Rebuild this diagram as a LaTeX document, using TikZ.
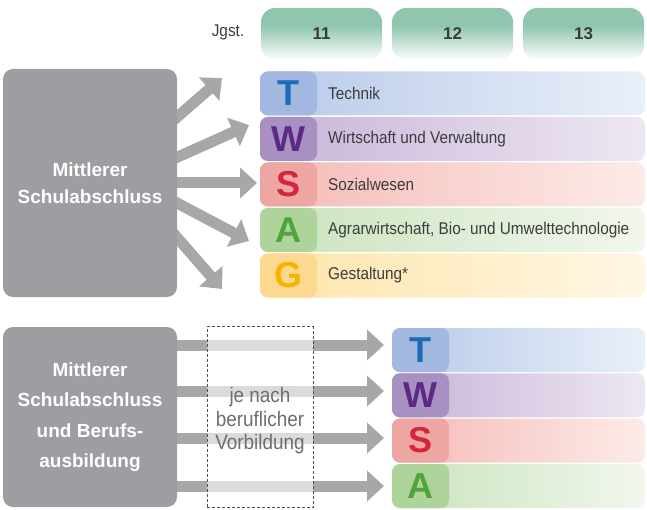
\documentclass[tikz,border=0pt]{standalone}
\usepackage{fontspec}
\setmainfont{Liberation Sans}[FakeStretch=0.9]
\newfontfamily\headfont{Liberation Sans}
\usetikzlibrary{arrows.meta}

\definecolor{boxgray}{HTML}{9C9EA1}
\definecolor{arrowgray}{HTML}{A5A7A9}
\definecolor{dashgray}{HTML}{505050}
\definecolor{tabgreen}{HTML}{8FC6AD}
\definecolor{labeltext}{HTML}{3C3C3C}
\definecolor{softtext}{HTML}{6E6E6E}
\definecolor{tLetter}{HTML}{1C6BB6}\definecolor{tBox}{HTML}{A2B8E0}
\definecolor{tLeft}{HTML}{B7C9E9}\definecolor{tRight}{HTML}{EAF0F9}
\definecolor{wLetter}{HTML}{5B2A84}\definecolor{wBox}{HTML}{A890C3}
\definecolor{wLeft}{HTML}{C6B4D7}\definecolor{wRight}{HTML}{EEE7F2}
\definecolor{sLetter}{HTML}{D7233B}\definecolor{sBox}{HTML}{EEA6A3}
\definecolor{sLeft}{HTML}{F5BAB5}\definecolor{sRight}{HTML}{FCEBE8}
\definecolor{aLetter}{HTML}{4DA53B}\definecolor{aBox}{HTML}{AED49C}
\definecolor{aLeft}{HTML}{C9E3BC}\definecolor{aRight}{HTML}{F1F7ED}
\definecolor{gLetter}{HTML}{F6B400}\definecolor{gBox}{HTML}{FDD88F}
\definecolor{gLeft}{HTML}{FEE4A9}\definecolor{gRight}{HTML}{FFF7E4}

\pgfdeclareverticalshading{tabfade}{100bp}{color(0bp)=(white); color(25bp)=(white);
  color(38bp)=(tabgreen!40!white); color(58bp)=(tabgreen); color(100bp)=(tabgreen)}

\begin{document}
\begin{tikzpicture}[x=1pt, y=-1pt]
		% Define the styles
		\tikzstyle{yeartab}=[shading=tabfade, rounded corners=14pt, inner sep=0pt,
		minimum width=121pt, minimum height=52pt, text=labeltext,
		font=\headfont\bfseries\fontsize{17}{17}\selectfont]
		\tikzstyle{graybox}=[fill=boxgray, rounded corners=10pt, inner sep=0pt,
		minimum width=174pt, text=white, align=center,
		font=\headfont\bfseries\fontsize{19}{27}\selectfont]
		\tikzstyle{trackrow}=[rounded corners=8pt, inner sep=0pt, minimum height=44pt]
		\tikzstyle{letterbox}=[rounded corners=8pt, inner sep=0pt, minimum width=57pt,
		minimum height=44pt, anchor=west, font=\headfont\bfseries\fontsize{36}{36}\selectfont]
		\tikzstyle{rowlabel}=[anchor=west, inner sep=0pt, text=labeltext,
		font=\fontsize{17}{17}\selectfont]
		\tikzstyle{fanarrow}=[draw=arrowgray, line width=11pt,
		-{Triangle[length=17pt, width=30pt]}]
		
		\useasboundingbox (0,0) rectangle (647,510);
		
		% Year header
		\node[anchor=center, text=labeltext, font=\fontsize{17}{17}\selectfont] (jgst) at (228,32) {Jgst.};
		\node[yeartab] (y11) at (321.5,34) {11}; \node[yeartab] (y12) at (452.5,34) {12};
		\node[yeartab] (y13) at (583.5,34) {13};
		
		% Arrow tips in front of the upper rows
		\coordinate (tipT) at (222,78); \coordinate (tipW) at (249,125);
		\coordinate (tipS) at (257,183); \coordinate (tipA) at (249,241);
		\coordinate (tipG) at (222,289);
		\coordinate (upper) at (177,183);
		
		% Fan of arrows
		\draw[fanarrow] ([xshift=-17pt, yshift=51pt]upper) -- (tipT);
		\draw[fanarrow] ([xshift=-17pt, yshift=18pt]upper) -- (tipW);
		\draw[fanarrow] ([xshift=-17pt]upper) -- (tipS);
		\draw[fanarrow] ([xshift=-17pt, yshift=-11pt]upper) -- (tipA);
		\draw[fanarrow] ([xshift=-17pt, yshift=-35pt]upper) -- (tipG);
		
		% Upper gray box
		\node[graybox, minimum height=228pt] (upperbox) at (90,183) {Mittlerer\\Schulabschluss};
		
		% Upper rows
		\node[trackrow, minimum width=385pt, left color=tLeft, right color=tRight] (rowT) at (452.5,93.5) {};
		\node[letterbox, fill=tBox, text=tLetter] (boxT) at (rowT.west) {T};
		\node[rowlabel] (labT) at (328,93.5) {Technik};
		\node[trackrow, minimum width=385pt, left color=wLeft, right color=wRight] (rowW) at (452.5,139) {};
		\node[letterbox, fill=wBox, text=wLetter] (boxW) at (rowW.west) {W};
		\node[rowlabel] (labW) at (328,139) {Wirtschaft und Verwaltung};
		\node[trackrow, minimum width=385pt, left color=sLeft, right color=sRight] (rowS) at (452.5,184.5) {};
		\node[letterbox, fill=sBox, text=sLetter] (boxS) at (rowS.west) {S};
		\node[rowlabel] (labS) at (328,184.5) {Sozialwesen};
		\node[trackrow, minimum width=385pt, left color=aLeft, right color=aRight] (rowA) at (452.5,230) {};
		\node[letterbox, fill=aBox, text=aLetter] (boxA) at (rowA.west) {A};
		\node[rowlabel] (labA) at (328,230) {Agrarwirtschaft, Bio- und Umwelttechnologie};
		\node[trackrow, minimum width=385pt, left color=gLeft, right color=gRight] (rowG) at (452.5,275.5) {};
		\node[letterbox, fill=gBox, text=gLetter] (boxG) at (rowG.west) {G};
		\node[rowlabel] (labG) at (328,275.5) {Gestaltung*};
		
		% Lower rows
		\node[trackrow, minimum width=253pt, left color=tLeft, right color=tRight] (lrowT) at (518.5,350) {};
		\node[letterbox, fill=tBox, text=tLetter] (lboxT) at (lrowT.west) {T};
		\node[trackrow, minimum width=253pt, left color=wLeft, right color=wRight] (lrowW) at (518.5,395.3) {};
		\node[letterbox, fill=wBox, text=wLetter] (lboxW) at (lrowW.west) {W};
		\node[trackrow, minimum width=253pt, left color=sLeft, right color=sRight] (lrowS) at (518.5,440.6) {};
		\node[letterbox, fill=sBox, text=sLetter] (lboxS) at (lrowS.west) {S};
		\node[trackrow, minimum width=253pt, left color=aLeft, right color=aRight] (lrowA) at (518.5,486) {};
		\node[letterbox, fill=aBox, text=aLetter] (lboxA) at (lrowA.west) {A};
		
		% Straight arrows to the lower rows
		\coordinate (ltipT) at (384,345); \coordinate (ltipW) at (384,391);
		\coordinate (ltipS) at (384,438); \coordinate (ltipA) at (384,486);
		\coordinate (lower) at (167,417);
		\draw[fanarrow] (lower |- ltipT) -- (ltipT);
		\draw[fanarrow] (lower |- ltipW) -- (ltipW);
		\draw[fanarrow] (lower |- ltipS) -- (ltipS);
		\draw[fanarrow] (lower |- ltipA) -- (ltipA);
		
		% Lower gray box
		\node[graybox, minimum height=180pt, font=\headfont\bfseries\fontsize{19}{30.5}\selectfont]
		(lowerbox) at (90,417) {Mittlerer\\Schulabschluss\\und Berufs-\\ausbildung};
		
		% Dashed box over the arrows
		\node[draw=dashgray, dashed, dash pattern=on 3pt off 2pt, line width=0.8pt, fill=white,
		fill opacity=0.6, minimum width=106pt, minimum height=181pt] (choicebox) at (260,417) {};
		\node[align=center, text=softtext, font=\fontsize{21}{23.5}\selectfont]
		(choicelabel) at (260,421) {je nach\\beruflicher\\Vorbildung};
	\end{tikzpicture}
\end{document}
